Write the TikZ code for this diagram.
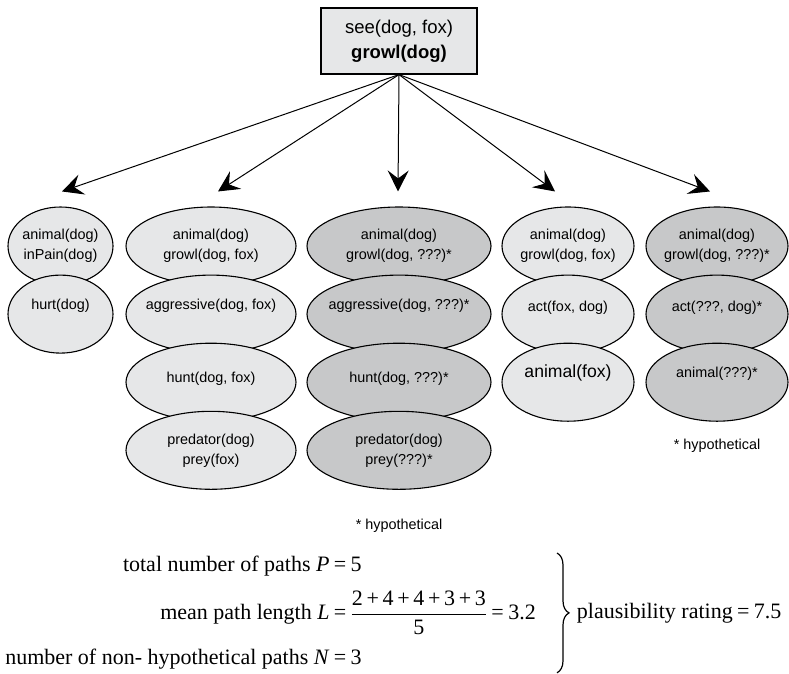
\documentclass[tikz,border=0pt]{standalone}
\usepackage[no-math]{fontspec}
\setmainfont{Liberation Sans}
\newfontfamily\timesfont{Liberation Serif}
\usepackage{tikz}
\usetikzlibrary{shapes.geometric,chains,positioning,decorations.pathreplacing,arrows.meta}
\usepackage{mathtools}
\definecolor{paleoval}{RGB}{230,231,232}
\definecolor{greyoval}{RGB}{199,200,201}
\newcommand{\eqsign}{\hspace{.2em}=\hspace{.2em}}

\begin{document}
\begin{tikzpicture}[
x=1pt, y=-1pt,
oval/.style={
  draw,
  ellipse,
  line width=1.1pt,
  fill=paleoval,
  inner xsep=-30pt,
  inner ysep=0pt,
  minimum height=78pt,
  align=center,
  font=\fontsize{14.4}{20}\selectfont
},
hypo/.style={
  oval,
  fill=greyoval
},
lifted/.style={
  text height=10pt,
  text depth=#1
},
lifted/.default=19pt,
pointer/.style={
  line width=1pt,
  -{Stealth[length=21pt,width=21pt,inset=8pt]}
},
node distance=-11pt
]
\useasboundingbox (0,0) rectangle (789,673);

\node[draw, fill=paleoval, line width=1.2pt, minimum width=156pt, minimum height=66pt,
  align=center, font=\fontsize{18.5}{25}\selectfont] at (399,41)
  (goal) {see(dog, fox)\\\textbf{growl(dog)}};

% first path
\begin{scope}[start chain=c1 going below]
\node[on chain=c1, oval, minimum width=105pt] at (60.5,246)
  (c1a) {animal(dog)\\inPain(dog)};
\node[on chain=c1, oval, minimum width=105pt, lifted]
  (c1b) {hurt(dog)};
\end{scope}

% second path
\begin{scope}[start chain=c2 going below]
\node[on chain=c2, oval, minimum width=170pt] at (211,246)
  (c2a) {animal(dog)\\growl(dog, fox)};
\node[on chain=c2, oval, minimum width=170pt, lifted]
  (c2b) {aggressive(dog, fox)};
\node[on chain=c2, oval, minimum width=170pt, lifted=10pt]
  (c2c) {hunt(dog, fox)};
\node[on chain=c2, oval, minimum width=170pt]
  (c2d) {predator(dog)\\prey(fox)};
\end{scope}

% third path, hypothetical
\begin{scope}[start chain=c3 going below]
\node[on chain=c3, hypo, minimum width=184pt] at (399,246)
  (c3a) {animal(dog)\\growl(dog, ???)*};
\node[on chain=c3, hypo, minimum width=184pt, lifted]
  (c3b) {aggressive(dog, ???)*};
\node[on chain=c3, hypo, minimum width=184pt, lifted=10pt]
  (c3c) {hunt(dog, ???)*};
\node[on chain=c3, hypo, minimum width=184pt]
  (c3d) {predator(dog)\\prey(???)*};
\end{scope}

% fourth path
\begin{scope}[start chain=c4 going below]
\node[on chain=c4, oval, minimum width=132pt] at (568,246)
  (c4a) {animal(dog)\\growl(dog, fox)};
\node[on chain=c4, oval, minimum width=132pt, lifted=16pt]
  (c4b) {act(fox, dog)};
\node[on chain=c4, oval, minimum width=132pt, lifted=19pt, font=\fontsize{17.6}{22}\selectfont]
  (c4c) {animal(fox)};
\end{scope}

% fifth path, hypothetical
\begin{scope}[start chain=c5 going below]
\node[on chain=c5, hypo, minimum width=142pt] at (717,246)
  (c5a) {animal(dog)\\growl(dog, ???)*};
\node[on chain=c5, hypo, minimum width=142pt, lifted=16pt]
  (c5b) {act(???, dog)*};
\node[on chain=c5, hypo, minimum width=142pt, lifted=19pt]
  (c5c) {animal(???)*};
\end{scope}

\node[below=26pt of c3d, font=\fontsize{14.4}{20}\selectfont] (hyp3) {* hypothetical};
\node[below=14pt of c5c, font=\fontsize{14.4}{20}\selectfont] (hyp5) {* hypothetical};

\draw[pointer] (goal.south) -- ([xshift=1.5pt,yshift=15pt]c1a.north);
\draw[pointer] (goal.south) -- ([xshift=7pt,yshift=15pt]c2a.north);
\draw[pointer] (goal.south) -- ([xshift=-1pt,yshift=15pt]c3a.north);
\draw[pointer] (goal.south) -- ([xshift=-13pt,yshift=15pt]c4a.north);
\draw[pointer] (goal.south) -- ([xshift=-7pt,yshift=15pt]c5a.north);

\node[anchor=north east, inner sep=0pt, font=\timesfont\fontsize{22}{26}\selectfont] at (536,553)
  (sums) {\begin{tabular}{@{}r@{}l@{}}
  total number of paths \textit{P} & \eqsign 5\\[12pt]
  mean path length \textit{L} & \eqsign$\displaystyle\frac{\hbox{2\,+\,4\,+\,4\,+\,3\,+\,3}}{\hbox{5}}$\eqsign 3.2\\[19pt]
  number of non- hypothetical paths \textit{N} & \eqsign 3
  \end{tabular}};

\draw[decorate, decoration={brace, amplitude=12pt}, line width=1.2pt]
  ([xshift=21pt]sums.north east) -- node[right=16pt, font=\timesfont\fontsize{22}{26}\selectfont]
  (rating) {plausibility rating\eqsign 7.5} ([xshift=21pt]sums.south east);
\end{tikzpicture}
\end{document}
